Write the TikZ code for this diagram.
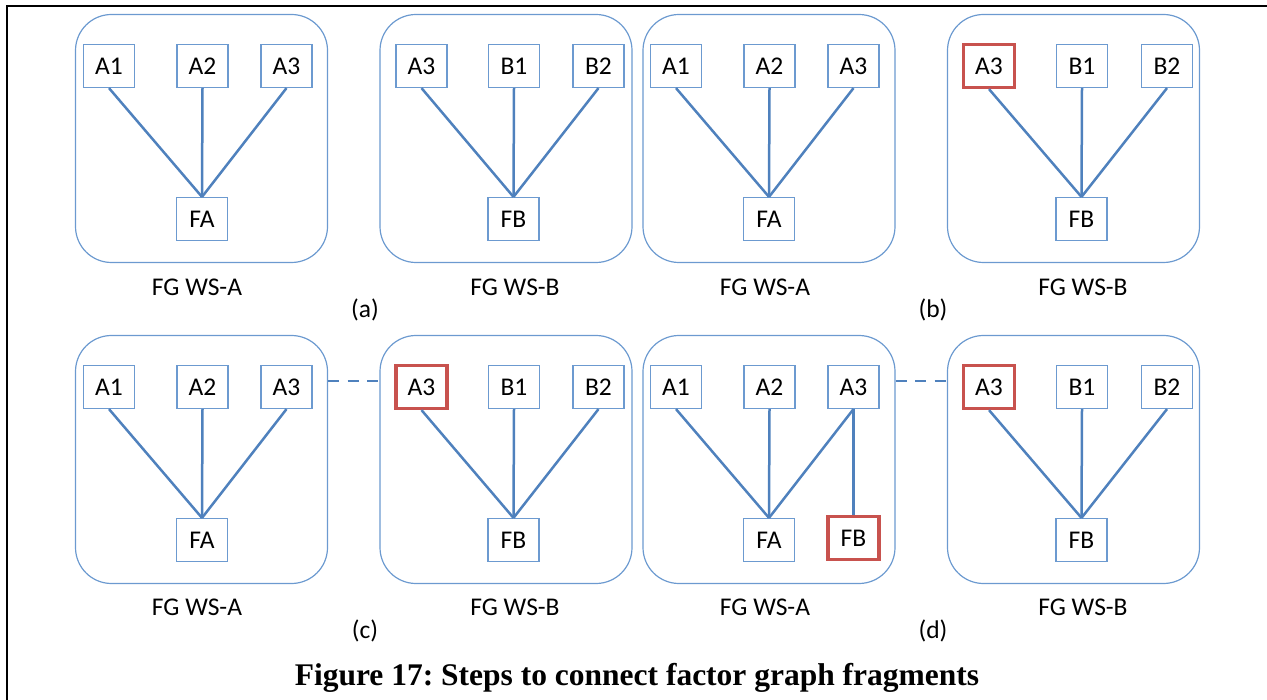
\documentclass[tikz,border=0pt]{standalone}
\usepackage{fontspec}
\setmainfont{Carlito}
\newfontfamily\capfont{Liberation Serif}
\usepackage{xcolor}
\definecolor{frameBlue}{RGB}{108,154,208}
\definecolor{linkBlue}{RGB}{79,129,189}
\definecolor{pickRed}{RGB}{200,82,78}
\tikzset{
  frag/.style={draw=frameBlue, line width=1.2pt, rounded corners=36pt, minimum width=252pt, minimum height=248pt},
  var/.style={draw=frameBlue, line width=1.2pt, fill=white, minimum width=51pt, minimum height=43pt, inner sep=0pt, font=\fontsize{25.5}{30}\selectfont},
  pick/.style={var, draw=pickRed, line width=3.2pt},
  link/.style={draw=linkBlue, line width=2.5pt},
  bridge/.style={link, dash pattern=on 11pt off 8.5pt},
  tag/.style={font=\fontsize{25.5}{30}\selectfont}
}

\begin{document}
\frenchspacing
\begin{tikzpicture}[x=1pt,y=-1pt]
  \useasboundingbox (0,0) rectangle (1267,700);
  \draw[line width=2.2pt] (7,700) -- (7,6) -- (1267,6);

  % (a) two separate fragments
  \node[frag] (aL) at (201.5,138.5) {};
  \node[frag] (aR) at (506,138.5) {};
  \node[var] (aLA1) at (109,66) {A1};
  \node[var] (aLA2) at (202.5,66) {A2};
  \node[var] (aLA3) at (286.5,66) {A3};
  \node[var] (aLFA) at (202,219) {FA};
  \node[var] (aRA3) at (421.5,66) {A3};
  \node[var] (aRB1) at (514,66) {B1};
  \node[var] (aRB2) at (598.5,66) {B2};
  \node[var] (aRFB) at (513.5,219) {FB};
  \node[tag] at (197,287) {FG WS-A};
  \node[tag] at (515,287) {FG WS-B};
  \node[tag] at (365,310) {(a)};

  % (b) shared variable marked
  \node[frag] (bL) at (769,138.5) {};
  \node[frag] (bR) at (1073.5,138.5) {};
  \node[var] (bLA1) at (676,66) {A1};
  \node[var] (bLA2) at (769.5,66) {A2};
  \node[var] (bLA3) at (853.5,66) {A3};
  \node[var] (bLFA) at (769,219) {FA};
  \node[pick] (bRA3) at (989,66) {A3};
  \node[var] (bRB1) at (1082,66) {B1};
  \node[var] (bRB2) at (1167,66) {B2};
  \node[var] (bRFB) at (1081.5,219) {FB};
  \node[tag] at (765,287) {FG WS-A};
  \node[tag] at (1083,287) {FG WS-B};
  \node[tag] at (933,310) {(b)};

  % (c) fragments linked
  \node[frag] (cL) at (201.5,459.5) {};
  \node[frag] (cR) at (506,459.5) {};
  \node[var] (cLA1) at (109,387) {A1};
  \node[var] (cLA2) at (202.5,387) {A2};
  \node[var] (cLA3) at (286.5,387) {A3};
  \node[var] (cLFA) at (202,540) {FA};
  \node[pick] (cRA3) at (421.5,387) {A3};
  \node[var] (cRB1) at (514,387) {B1};
  \node[var] (cRB2) at (598.5,387) {B2};
  \node[var] (cRFB) at (513.5,540) {FB};
  \node[tag] at (197,607) {FG WS-A};
  \node[tag] at (515,607) {FG WS-B};
  \node[tag] at (365,631) {(c)};

  % (d) factor copied across
  \node[frag] (dL) at (769,459.5) {};
  \node[frag] (dR) at (1073.5,459.5) {};
  \node[var] (dLA1) at (676,387) {A1};
  \node[var] (dLA2) at (769.5,387) {A2};
  \node[var] (dLA3) at (853.5,387) {A3};
  \node[var] (dLFA) at (769,540) {FA};
  \node[pick] (dLFB) at (853.5,538) {FB};
  \node[pick] (dRA3) at (989,387) {A3};
  \node[var] (dRB1) at (1082,387) {B1};
  \node[var] (dRB2) at (1167,387) {B2};
  \node[var] (dRFB) at (1081.5,540) {FB};
  \node[tag] at (765,607) {FG WS-A};
  \node[tag] at (1083,607) {FG WS-B};
  \node[tag] at (933,631) {(d)};

  % Edges
  \draw[link] (aLA1.south) -- (aLFA.north);
  \draw[link] (aLA2.south) -- (aLFA.north);
  \draw[link] (aLA3.south) -- (aLFA.north);
  \draw[link] (aRA3.south) -- (aRFB.north);
  \draw[link] (aRB1.south) -- (aRFB.north);
  \draw[link] (aRB2.south) -- (aRFB.north);
  \draw[link] (bLA1.south) -- (bLFA.north);
  \draw[link] (bLA2.south) -- (bLFA.north);
  \draw[link] (bLA3.south) -- (bLFA.north);
  \draw[link] (bRA3.south) -- (bRFB.north);
  \draw[link] (bRB1.south) -- (bRFB.north);
  \draw[link] (bRB2.south) -- (bRFB.north);
  \draw[link] (cLA1.south) -- (cLFA.north);
  \draw[link] (cLA2.south) -- (cLFA.north);
  \draw[link] (cLA3.south) -- (cLFA.north);
  \draw[link] (cRA3.south) -- (cRFB.north);
  \draw[link] (cRB1.south) -- (cRFB.north);
  \draw[link] (cRB2.south) -- (cRFB.north);
  \draw[link] (dLA1.south) -- (dLFA.north);
  \draw[link] (dLA2.south) -- (dLFA.north);
  \draw[link] (dLA3.south) -- (dLFA.north);
  \draw[link] (dLA3.south) -- (dLFB.north);
  \draw[link] (dRA3.south) -- (dRFB.north);
  \draw[link] (dRB1.south) -- (dRFB.north);
  \draw[link] (dRB2.south) -- (dRFB.north);

  % Dashed links between fragments
  \draw[bridge] ([yshift=78.5pt]cL.east) -- ([yshift=78.5pt]cR.west);
  \draw[bridge] ([yshift=78.5pt]dL.east) -- ([yshift=78.5pt]dR.west);

  \node[font=\capfont\bfseries\fontsize{31.5}{36}\selectfont] (caption) at (637,678) {Figure 17: Steps to connect factor graph fragments};
\end{tikzpicture}
\end{document}
